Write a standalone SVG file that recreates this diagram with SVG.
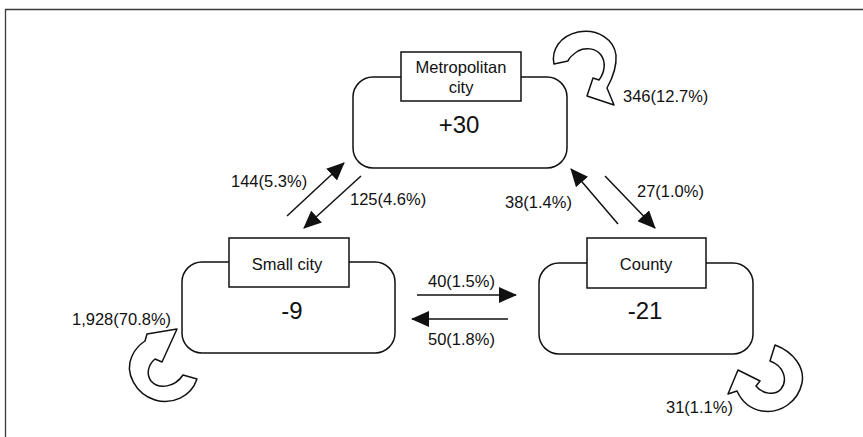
<svg xmlns="http://www.w3.org/2000/svg" width="863" height="437" viewBox="0 0 863 437">
<style>
.frame{fill:none;stroke:#3a3a3a;stroke-width:1.3}
.region{fill:#fff;stroke:#111;stroke-width:1.5}
.label{fill:#fff;stroke:#111;stroke-width:1.5}
.loop{fill:#fff;stroke:#111;stroke-width:1.5;stroke-linejoin:round}
.flow{stroke:#111;stroke-width:1.5;fill:none}
text{font-family:"Liberation Sans",Arial,sans-serif;fill:#111}
.name{font-size:16.5px;text-anchor:middle}
.val{font-size:24px;text-anchor:middle}
.num{font-size:16.5px}
</style>
<defs>
<marker id="ah" markerWidth="18" markerHeight="16" refX="17" refY="8" orient="auto" markerUnits="userSpaceOnUse">
<path d="M0,0 L18,8 L0,16 z" fill="#111"/>
</marker>
</defs>
<rect width="863" height="437" fill="#fff"/>
<path class="frame" d="M5.5,437 V9.5 H863"/>

<g id="metropolitan">
<rect class="region" x="353" y="77" width="214" height="91" rx="20"/>
<rect class="label" x="401" y="52" width="120" height="49"/>
<text class="name" x="461" y="73">Metropolitan</text>
<text class="name" x="461" y="93">city</text>
<text class="val" x="459" y="133">+30</text>
</g>

<g id="small-city">
<rect class="region" x="182" y="262" width="213" height="91" rx="20"/>
<rect class="label" x="229" y="238" width="120" height="49"/>
<text class="name" x="287" y="270">Small city</text>
<text class="val" x="292" y="319">-9</text>
</g>

<g id="county">
<rect class="region" x="539" y="263" width="214" height="91" rx="20"/>
<rect class="label" x="587" y="238" width="119" height="50"/>
<text class="name" x="646" y="270">County</text>
<text class="val" x="645" y="319">-21</text>
</g>

<g id="connectors">
<line class="flow" x1="287" y1="216" x2="344" y2="163" marker-end="url(#ah)"/>
<line class="flow" x1="361" y1="176" x2="304" y2="228" marker-end="url(#ah)"/>
<line class="flow" x1="618" y1="224" x2="571" y2="169" marker-end="url(#ah)"/>
<line class="flow" x1="605" y1="176" x2="655" y2="228" marker-end="url(#ah)"/>
<line class="flow" x1="417" y1="295" x2="516" y2="295" marker-end="url(#ah)"/>
<line class="flow" x1="508" y1="319" x2="412" y2="319" marker-end="url(#ah)"/>

<path class="loop" d="M554,64 C551,50 560,36 578,32 C598,28 614,40 616,55 C617,68 612,79 607,88 L614,105 L587,96 L593,78 L599,80 C605,72 606,62 601,55 C596,48 585,47 578,51 C572,55 569,58 568,61 Z"/>
<path class="loop" d="M197,379 C191,397 172,405 155,400 C136,394 124,373 132,356 C135,349 139,345 145,341 L147,334 L177,329 L162,362 L155,359 C148,365 146,374 151,381 C159,390 175,387 183,375 Z"/>
<path class="loop" d="M775,345 C794,352 805,368 802,383 C798,402 780,414 762,411 C750,409 742,402 737,391 L728,394 L738,370 L760,381 L756,386 C762,394 775,396 781,389 C788,380 784,366 770,361 Z"/>

<text class="num" x="623" y="102">346(12.7%)</text>
<text class="num" x="231" y="187">144(5.3%)</text>
<text class="num" x="350" y="205">125(4.6%)</text>
<text class="num" x="505" y="208">38(1.4%)</text>
<text class="num" x="637" y="197">27(1.0%)</text>
<text class="num" x="428" y="287">40(1.5%)</text>
<text class="num" x="428" y="345">50(1.8%)</text>
<text class="num" x="72" y="325">1,928(70.8%)</text>
<text class="num" x="666" y="413">31(1.1%)</text>
</g>
</svg>
